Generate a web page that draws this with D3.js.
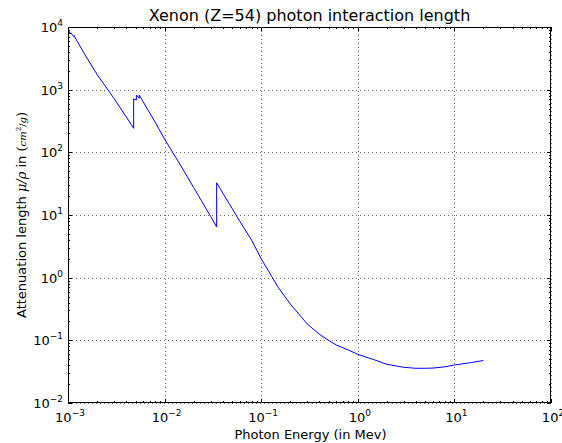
<!DOCTYPE html>
<html>
<head>
<meta charset="utf-8">
<script src="https://cdn.jsdelivr.net/npm/d3@7"></script>
<style>
html,body{margin:0;padding:0;background:#fff;}
svg{display:block;font-family:"DejaVu Sans",sans-serif;}
</style>
</head>
<body>
<svg id="chart" width="562" height="443"></svg>
<script>
// Data (photon energy in MeV, mu/rho in cm^2/g)
const energy = [0.001, 0.001065, 0.001065, 0.001149, 0.001149, 0.0015, 0.002, 0.003, 0.004,
  0.004782, 0.004782, 0.005104, 0.005104, 0.005453, 0.005453, 0.006, 0.008, 0.01, 0.015, 0.02, 0.03,
  0.03456, 0.03456, 0.04, 0.05, 0.06, 0.08, 0.1, 0.15, 0.2, 0.3, 0.4, 0.5, 0.6, 0.8,
  1, 1.5, 2, 3, 4, 5, 6, 8, 10, 15, 20];
const attenuation = [9000, 7760, 8050, 7050, 7330, 3600, 1750, 720, 370,
  242, 710, 684, 822, 728, 822, 640, 302, 162, 58.3, 27.4, 9.46,
  6.43, 32.7, 22.5, 12.7, 7.96, 3.92, 2.0, 0.70, 0.380, 0.182, 0.125, 0.0994, 0.0842, 0.070,
  0.0598, 0.0486, 0.0414, 0.0371, 0.0358, 0.0358, 0.0361, 0.0378, 0.0404, 0.0442, 0.0477];
const xTickExponents = [-3, -2, -1, 0, 1, 2];
const yTickExponents = [-2, -1, 0, 1, 2, 3, 4];
const titleText = "Xenon (Z=54) photon interaction length";
const xLabelText = "Photon Energy (in Mev)";

const svg = d3.select("#chart");
const L = 68, R = 551, T = 27, B = 403;
const x = d3.scaleLog().domain([1e-3, 1e2]).range([L, R]);
const y = d3.scaleLog().domain([1e-2, 1e4]).range([B, T]);

// grid
const grid = svg.append("g").attr("stroke", "#000").attr("stroke-width", 0.6)
  .attr("stroke-dasharray", "1,3").attr("fill", "none");
xTickExponents.forEach(e => {
  const px = Math.round(x(Math.pow(10, e))) + 0.5;
  grid.append("line").attr("x1", px).attr("x2", px).attr("y1", T).attr("y2", B);
});
yTickExponents.forEach(e => {
  const py = Math.round(y(Math.pow(10, e))) + 0.5;
  grid.append("line").attr("x1", L).attr("x2", R).attr("y1", py).attr("y2", py);
});

// ticks (major + minor), inward on all sides
const ticks = svg.append("g").attr("stroke", "#000").attr("stroke-width", 1);
function xTick(v, len) {
  const px = Math.round(x(v)) + 0.5;
  ticks.append("line").attr("x1", px).attr("x2", px).attr("y1", B).attr("y2", B - len);
  ticks.append("line").attr("x1", px).attr("x2", px).attr("y1", T).attr("y2", T + len);
}
function yTick(v, len) {
  const py = Math.round(y(v)) + 0.5;
  ticks.append("line").attr("x1", L).attr("x2", L + len).attr("y1", py).attr("y2", py);
  ticks.append("line").attr("x1", R).attr("x2", R - len).attr("y1", py).attr("y2", py);
}
xTickExponents.forEach((e, i) => {
  xTick(Math.pow(10, e), 4);
  if (i < xTickExponents.length - 1) for (let m = 2; m <= 9; m++) xTick(m * Math.pow(10, e), 2);
});
yTickExponents.forEach((e, i) => {
  yTick(Math.pow(10, e), 4);
  if (i < yTickExponents.length - 1) for (let m = 2; m <= 9; m++) yTick(m * Math.pow(10, e), 2);
});

// data line
svg.append("clipPath").attr("id", "clip").append("rect")
  .attr("x", L).attr("y", T).attr("width", R - L).attr("height", B - T);
const pts = energy.map((e, i) => [e, attenuation[i]]);
svg.append("path").datum(pts)
  .attr("clip-path", "url(#clip)")
  .attr("fill", "none").attr("stroke", "#0000ff").attr("stroke-width", 1)
  .attr("d", d3.line().x(d => x(d[0])).y(d => y(d[1])));

// frame
svg.append("rect").attr("x", L + 0.5).attr("y", T + 0.5).attr("width", R - L - 1).attr("height", B - T - 1)
  .attr("fill", "none").attr("stroke", "#000").attr("stroke-width", 1);

// tick labels
function expLabel(g, e, px, py, anchor) {
  const t = g.append("text").attr("x", px).attr("y", py).attr("text-anchor", anchor)
    .attr("font-size", 13).attr("fill", "#000");
  t.append("tspan").text("10");
  t.append("tspan").attr("dy", -6).attr("font-size", 9).text(e < 0 ? "\u2212" + (-e) : String(e));
}
const lab = svg.append("g");
xTickExponents.forEach(e => expLabel(lab, e, x(Math.pow(10, e)) + 2, B + 19, "middle"));
yTickExponents.forEach(e => expLabel(lab, e, L - 5, y(Math.pow(10, e)) + 5, "end"));

// title
svg.append("text").attr("x", (L + R) / 2).attr("y", 21).attr("text-anchor", "middle")
  .attr("font-size", 16).attr("fill", "#000").text(titleText);

// x label
svg.append("text").attr("x", (L + R) / 2 + 1).attr("y", 439).attr("text-anchor", "middle")
  .attr("font-size", 13).attr("fill", "#000").text(xLabelText);

// y label with math
const yl = svg.append("text").attr("transform", `translate(26,${(T + B) / 2}) rotate(-90)`)
  .attr("text-anchor", "middle").attr("font-size", 13).attr("fill", "#000");
yl.append("tspan").text("Attenuation length ");
yl.append("tspan").attr("font-family", "DejaVu Serif").attr("font-style", "italic").text("\u03bc/\u03c1");
yl.append("tspan").text(" in ");
yl.append("tspan").attr("font-family", "DejaVu Serif").text("(");
yl.append("tspan").attr("font-family", "DejaVu Serif").attr("font-style", "italic").attr("font-size", 10).text("cm");
yl.append("tspan").attr("font-family", "DejaVu Serif").attr("font-size", 7).attr("dy", -5).text("2");
yl.append("tspan").attr("font-family", "DejaVu Serif").attr("font-size", 10).attr("dy", 5).text("/");
yl.append("tspan").attr("font-family", "DejaVu Serif").attr("font-style", "italic").attr("font-size", 10).text("g");
yl.append("tspan").attr("font-family", "DejaVu Serif").text(")");
</script>
</body>
</html>
